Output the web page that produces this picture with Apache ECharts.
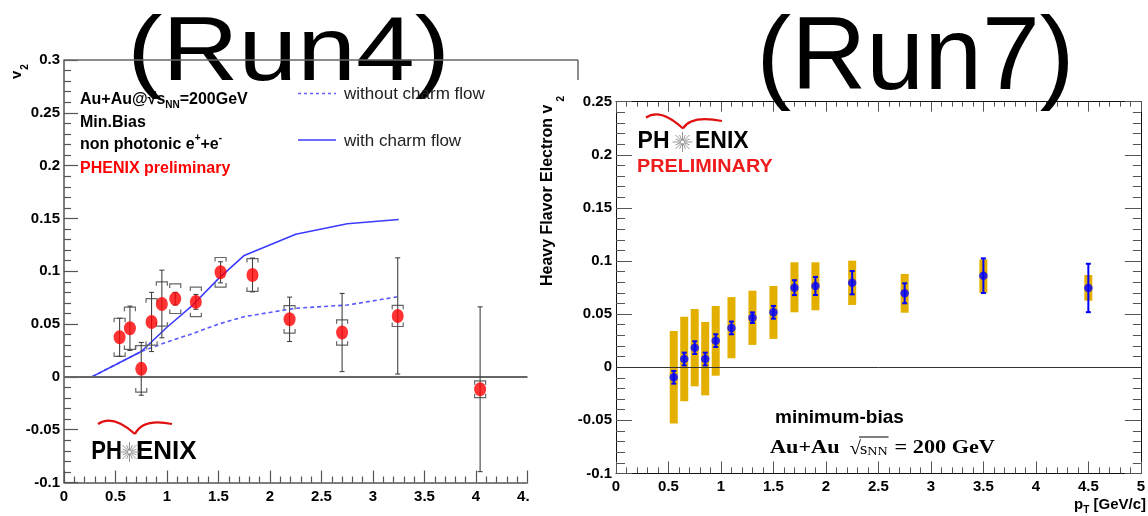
<!DOCTYPE html>
<html><head><meta charset="utf-8">
<script src="https://cdn.jsdelivr.net/npm/echarts@6/dist/echarts.min.js"></script>
<style>html,body{margin:0;padding:0;background:#fff}#c{width:1148px;height:516px}</style>
</head><body><div id="c"></div>
<script>
// ---------- DATA ----------
// Run4 (left panel): non-photonic electron v2
const run4X    = [0.54, 0.64, 0.75, 0.85, 0.95, 1.08, 1.28, 1.52, 1.83, 2.19, 2.70, 3.24, 4.04];
const run4V2   = [0.0375, 0.046, 0.0076, 0.052, 0.069, 0.074, 0.071, 0.099, 0.0965, 0.0545, 0.042, 0.0577, -0.0117];
const run4Stat = [0.018, 0.021, 0.025, 0.028, 0.032, 0.006, 0.007, 0.010, 0.016, 0.021, 0.037, 0.055, 0.078];
const run4Sys  = [0.018, 0.020, 0.022, 0.022, 0.021, 0.014, 0.014, 0.014, 0.0155, 0.013, 0.012, 0.010, 0.008];
// model curves
const curveX       = [0.27, 0.75, 1.0, 1.25, 1.5, 1.75, 2.25, 2.75, 3.25];
const withCharm    = [0, 0.024, 0.047, 0.068, 0.093, 0.115, 0.135, 0.145, 0.149];
const withoutCharm = [0, 0.024, 0.033, 0.041, 0.050, 0.057, 0.065, 0.068, 0.076];
// Run7 (right panel): heavy flavor electron v2
const run7X     = [0.55, 0.65, 0.75, 0.85, 0.95, 1.1, 1.3, 1.5, 1.7, 1.9, 2.25, 2.75, 3.5, 4.5];
const run7V2    = [-0.0095, 0.0077, 0.0184, 0.0077, 0.025, 0.037, 0.0466, 0.0517, 0.0749, 0.0765, 0.0796, 0.0696, 0.0862, 0.0746];
const run7Stat  = [0.006, 0.006, 0.006, 0.006, 0.006, 0.006, 0.005, 0.006, 0.007, 0.0085, 0.011, 0.0094, 0.0163, 0.0228];
const run7SysHi = [0.034, 0.0475, 0.0548, 0.0426, 0.0576, 0.066, 0.072, 0.0765, 0.0988, 0.0988, 0.1003, 0.0878, 0.1016, 0.0868];
const run7SysLo = [-0.053, -0.032, -0.018, -0.0265, -0.008, 0.0084, 0.021, 0.0266, 0.0517, 0.0536, 0.0586, 0.0513, 0.070, 0.0626];
// axis ranges / ticks
const leftXRange  = [0, 4.5, 0.5];
const leftYRange  = [-0.1, 0.3, 0.05];
const rightXRange = [0, 5, 0.5];
const rightYRange = [-0.1, 0.25, 0.05];

// ---------- helpers ----------
const SANS = '"Liberation Sans", Arial, Helvetica, sans-serif';
const SERIF = '"Liberation Serif", "Times New Roman", serif';
const mctx = document.createElement('canvas').getContext('2d');
function fontStr(p){ return (p.weight||'normal') + ' ' + p.size + 'px ' + (p.family||SANS); }
function tw(t, p){ mctx.font = fontStr(p); return mctx.measureText(t).width * (p.sx||1); }
const G = [];
function txt(x, y, t, p, extra){
  const el = Object.assign({type:'text', x:x, y:y, z:100, silent:true, scaleX:p.sx||1,
    style:{text:t, font:fontStr(p), fontSize:p.size, fontFamily:p.family||SANS, fontWeight:p.weight||'normal',
      fill:p.color||'#000', align:p.align||'left', textAlign:p.align||'left',
      verticalAlign:'middle', textVerticalAlign:'middle'}}, extra||{});
  G.push(el); return el;
}
function runs(x, y, parts){
  let cx = x;
  parts.forEach(p => { txt(cx, y + (p.dy||0), p.t, p); cx += tw(p.t, p) + (p.gap||0); });
  return cx;
}
function line(x1,y1,x2,y2,color,w,dash){
  G.push({type:'line', z:100, silent:true, shape:{x1,y1,x2,y2}, style:{stroke:color, lineWidth:w, lineDash:dash||null}});
}
function logo(cxStar, cyText, fs, phRight, phSx, enixLeft, arc, starR){
  // red arc (two wings meeting in a V)
  G.push({type:'bezierCurve', z:100, silent:true, shape:{x1:arc[0], y1:arc[1], x2:arc[2], y2:arc[3], cpx1:(arc[0]+arc[2])/2-4, cpy1:arc[1]-10}, style:{stroke:'#e01010', lineWidth:2.2, fill:null}});
  G.push({type:'bezierCurve', z:100, silent:true, shape:{x1:arc[2], y1:arc[3], x2:arc[4], y2:arc[5], cpx1:arc[2]+8, cpy1:arc[5]-6}, style:{stroke:'#e01010', lineWidth:2.2, fill:null}});
  txt(phRight, cyText, 'PH', {size:fs, weight:'bold', align:'right', sx:phSx});
  txt(enixLeft, cyText, 'ENIX', {size:fs, weight:'bold'});
  for (let k=0;k<16;k++){
    const a = k*Math.PI/8, r = (k%2? starR*0.75 : starR);
    line(cxStar+1.5*Math.cos(a), cyText+1.5*Math.sin(a), cxStar+r*Math.cos(a), cyText+r*Math.sin(a), '#8a8a8a', 0.9);
  }
}

// ---------- annotations ----------
// big titles
txt(288.5, 54.5, '(Run4)', {size:91, sx:1.16, align:'center'});
txt(915.5, 60.5, '(Run7)', {size:104, sx:1.0, align:'center'});

// left panel frame pieces
line(64, 60, 578, 60, '#666', 1.5);
line(578, 60, 578, 80, '#666', 1.5);

// left text block
const B16 = {size:16, weight:'bold'};
runs(80, 100, [{t:'Au+Au@√s', size:16, weight:'bold'}, {t:'NN', size:10, weight:'bold', dy:5}, {t:'=200GeV', size:16, weight:'bold'}]);
txt(80, 122.5, 'Min.Bias', B16);
runs(80, 145, [{t:'non photonic e', size:16, weight:'bold'}, {t:'+', size:10, weight:'bold', dy:-7}, {t:'+e', size:16, weight:'bold'}, {t:'-', size:10, weight:'bold', dy:-7}]);
txt(80, 168.5, 'PHENIX preliminary', {size:16, weight:'bold', color:'#ff0000'});

// left legend
line(298, 93.5, 336, 93.5, '#6060ff', 1.5, [3,3]);
txt(344, 94.5, 'without charm flow', {size:17, color:'#222'});
line(298, 140, 336, 140, '#3b3bff', 1.5);
txt(344, 141, 'with charm flow', {size:17, color:'#222'});

// left y title v2 (rotated)
G.push({type:'group', x:17, y:79, rotation:Math.PI/2, z:100, children:[
  {type:'text', x:0, y:0, style:{text:'v', font:'bold 15px '+SANS, fill:'#000', align:'left', textAlign:'left', verticalAlign:'middle', textVerticalAlign:'middle'}},
  {type:'text', x:tw('v',{size:15,weight:'bold'})+1, y:8, style:{text:'2', font:'bold 10px '+SANS, fill:'#000', align:'left', textAlign:'left', verticalAlign:'middle', textVerticalAlign:'middle'}}
]});

// left PHENIX logo
logo(129.5, 452, 26, 122, 0.85, 136, [98,424,135,434,172,424], 10);

// right panel: logo + PRELIMINARY
logo(682.5, 142, 23, 669.5, 1, 695, [646,117.5,683,128.5,722,121], 10);
txt(637, 167, 'PRELIMINARY', {size:18, weight:'bold', color:'#ee1c1c', sx:1.1});

// right text
txt(775, 417.5, 'minimum-bias', {size:19, weight:'bold'});
(function(){
  let x = 770, y = 448;
  const SX = 1.17;
  x = runs(x, y, [{t:'Au+Au', size:19, weight:'bold', family:SERIF, sx:SX}]) + 10;
  const rs = {size:19, family:SERIF, sx:1.1};
  txt(x, y+1, '√', rs);
  const sx = x + tw('√', rs) - 1;
  const sEnd = runs(sx, y+2, [{t:'s', size:16, family:SERIF, sx:SX}, {t:'NN', size:12, family:SERIF, dy:2, sx:SX}]);
  line(sx-1, 437, sEnd+1, 437, '#000', 1);
  runs(sEnd + 7, y, [{t:'= 200 GeV', size:19, weight:'bold', family:SERIF, sx:SX}]);
})();

// right y title (rotated)
(function(){
  const p = {size:16, weight:'bold'};
  const w = tw('Heavy Flavor Electron v', p);
  G.push({type:'group', x:548, y:286, rotation:Math.PI/2, z:100, children:[
    {type:'text', x:0, y:0, style:{text:'Heavy Flavor Electron v', font:fontStr(p), fill:'#000', align:'left', textAlign:'left', verticalAlign:'middle', textVerticalAlign:'middle'}},
    {type:'text', x:w+3, y:13, style:{text:'2', font:'bold 10px '+SANS, fill:'#000', align:'left', textAlign:'left', verticalAlign:'middle', textVerticalAlign:'middle'}}
  ]});
})();

// right x title p_T [GeV/c]
(function(){
  const P = {size:15, weight:'bold'}, S = {size:10, weight:'bold'};
  const total = tw('p',P) + tw('T',S) + tw(' [GeV/c]',P);
  runs(1146 - total, 505, [{t:'p', size:15, weight:'bold'}, {t:'T', size:10, weight:'bold', dy:5}, {t:' [GeV/c]', size:15, weight:'bold'}]);
})();

// white mask cutting the left "4.5" label
G.push({type:'rect', z:90, silent:true, shape:{x:529.5, y:486, width:40, height:28}, style:{fill:'#fff'}});

// ---------- chart ----------
const chart = echarts.init(document.getElementById('c'), null, {renderer:'canvas'});
const labelStyle = {color:'#000', fontFamily:SANS, fontWeight:'bold', fontSize:15};

function errItem(capW, color, lw){
  return function(params, api){
    const x = api.value(0), lo = api.value(1), hi = api.value(2);
    const a = api.coord([x, lo]), b = api.coord([x, hi]);
    const st = {stroke:color, lineWidth:lw};
    return {type:'group', children:[
      {type:'line', shape:{x1:a[0], y1:a[1], x2:b[0], y2:b[1]}, style:st},
      {type:'line', shape:{x1:a[0]-capW, y1:a[1], x2:a[0]+capW, y2:a[1]}, style:st},
      {type:'line', shape:{x1:b[0]-capW, y1:b[1], x2:b[0]+capW, y2:b[1]}, style:st}
    ]};
  };
}
function bracketItem(params, api){
  const x = api.value(0), lo = api.value(1), hi = api.value(2);
  const a = api.coord([x, lo]), b = api.coord([x, hi]);
  const w = 5.5, l = 4, st = {stroke:'#666', lineWidth:1.2, fill:null};
  return {type:'group', children:[
    {type:'polyline', shape:{points:[[b[0]-w, b[1]+l],[b[0]-w, b[1]],[b[0]+w, b[1]],[b[0]+w, b[1]+l]]}, style:st},
    {type:'polyline', shape:{points:[[a[0]-w, a[1]-l],[a[0]-w, a[1]],[a[0]+w, a[1]],[a[0]+w, a[1]-l]]}, style:st}
  ]};
}
function sysBarItem(params, api){
  const x = api.value(0), lo = api.value(1), hi = api.value(2);
  const a = api.coord([x, lo]), b = api.coord([x, hi]);
  return {type:'rect', shape:{x:a[0]-4, y:b[1], width:8, height:a[1]-b[1]}, style:{fill:'#e3b000'}};
}

const leftStatData = run4X.map((x,i)=>[x, run4V2[i]-run4Stat[i], run4V2[i]+run4Stat[i]]);
const leftSysData  = run4X.map((x,i)=>[x, run4V2[i]-run4Sys[i], run4V2[i]+run4Sys[i]]);
const leftPts      = run4X.map((x,i)=>[x, run4V2[i]]);
const rightStatData = run7X.map((x,i)=>[x, run7V2[i]-run7Stat[i], run7V2[i]+run7Stat[i]]);
const rightSysData  = run7X.map((x,i)=>[x, run7SysLo[i], run7SysHi[i]]);
const rightPts      = run7X.map((x,i)=>[x, run7V2[i]]);

function valAxis(extra){
  return Object.assign({type:'value', splitLine:{show:false}, axisLabel:Object.assign({}, labelStyle)}, extra);
}

const option = {
  animation:false,
  grid:[
    {left:64, top:60, width:463.5, height:422.5},
    {left:616, top:101.7, width:528, height:371.7}
  ],
  xAxis:[
    valAxis({gridIndex:0, min:leftXRange[0], max:leftXRange[1], interval:leftXRange[2],
      axisLine:{onZero:false, lineStyle:{color:'#555', width:1.5}},
      axisTick:{inside:true, length:12, lineStyle:{color:'#555', width:1.2}},
      minorTick:{show:true, splitNumber:5, length:6, lineStyle:{color:'#555', width:1.2}},
      axisLabel:Object.assign({}, labelStyle, {margin:7})}),
    valAxis({gridIndex:1, min:rightXRange[0], max:rightXRange[1], interval:rightXRange[2],
      axisLine:{onZero:false, lineStyle:{color:'#111', width:1}},
      axisTick:{inside:true, length:12, lineStyle:{color:'#555'}},
      minorTick:{show:true, splitNumber:5, length:6, lineStyle:{color:'#555'}},
      axisLabel:Object.assign({}, labelStyle, {margin:6})}),
    valAxis({gridIndex:1, position:'top', min:rightXRange[0], max:rightXRange[1], interval:rightXRange[2],
      axisLine:{onZero:false, lineStyle:{color:'#111', width:1}},
      axisTick:{inside:true, length:10, lineStyle:{color:'#555'}},
      minorTick:{show:true, splitNumber:5, length:5, lineStyle:{color:'#555'}},
      axisLabel:{show:false}})
  ],
  yAxis:[
    valAxis({gridIndex:0, min:leftYRange[0], max:leftYRange[1], interval:leftYRange[2],
      axisLine:{onZero:false, lineStyle:{color:'#555', width:1.5}},
      axisTick:{inside:true, length:14, lineStyle:{color:'#555', width:1.2}},
      minorTick:{show:true, splitNumber:5, length:7, lineStyle:{color:'#555', width:1.2}},
      axisLabel:Object.assign({}, labelStyle, {margin:4})}),
    valAxis({gridIndex:1, min:rightYRange[0], max:rightYRange[1], interval:rightYRange[2],
      axisLine:{onZero:false, lineStyle:{color:'#111', width:1}},
      axisTick:{inside:true, length:16, lineStyle:{color:'#555'}},
      minorTick:{show:true, splitNumber:5, length:9, lineStyle:{color:'#555'}},
      axisLabel:Object.assign({}, labelStyle, {margin:4})}),
    valAxis({gridIndex:1, position:'right', min:rightYRange[0], max:rightYRange[1], interval:rightYRange[2],
      axisLine:{onZero:false, lineStyle:{color:'#111', width:1}},
      axisTick:{inside:true, length:16, lineStyle:{color:'#555'}},
      minorTick:{show:true, splitNumber:5, length:8, lineStyle:{color:'#555'}},
      axisLabel:{show:false}})
  ],
  series:[
    // left panel
    {type:'line', xAxisIndex:0, yAxisIndex:0, data:curveX.map((x,i)=>[x, withoutCharm[i]]), showSymbol:false, symbol:'none',
      lineStyle:{color:'#5858ff', width:1.6, type:[4,3]}, z:3, silent:true,
      markLine:{silent:true, symbol:'none', label:{show:false}, lineStyle:{color:'#666', width:2, type:'solid'}, data:[{yAxis:0}], animation:false}},
    {type:'line', xAxisIndex:0, yAxisIndex:0, data:curveX.map((x,i)=>[x, withCharm[i]]), showSymbol:false, symbol:'none',
      lineStyle:{color:'#3b3bff', width:1.6}, z:3, silent:true},
    {type:'custom', xAxisIndex:0, yAxisIndex:0, renderItem:bracketItem, data:leftSysData, z:4, silent:true},
    {type:'custom', xAxisIndex:0, yAxisIndex:0, renderItem:errItem(2.5, '#444', 1.1), data:leftStatData, z:5, silent:true},
    {type:'scatter', xAxisIndex:0, yAxisIndex:0, data:leftPts, symbol:'circle', symbolSize:[12,14], itemStyle:{color:'#ff0000'}, z:6, silent:true},
    // right panel
    {type:'custom', xAxisIndex:1, yAxisIndex:1, renderItem:sysBarItem, data:rightSysData, z:3, silent:true,
      markLine:{silent:true, symbol:'none', label:{show:false}, lineStyle:{color:'#333', width:1, type:'solid'}, data:[{yAxis:0}], animation:false}},
    {type:'custom', xAxisIndex:1, yAxisIndex:1, renderItem:errItem(2.5, '#0000ff', 2), data:rightStatData, z:5, silent:true},
    {type:'scatter', xAxisIndex:1, yAxisIndex:1, data:rightPts, symbol:'circle', symbolSize:8.5, itemStyle:{color:'#0000ff'}, z:6, silent:true}
  ],
  graphic:{elements:G}
};
chart.setOption(option);
</script>
</body></html>
